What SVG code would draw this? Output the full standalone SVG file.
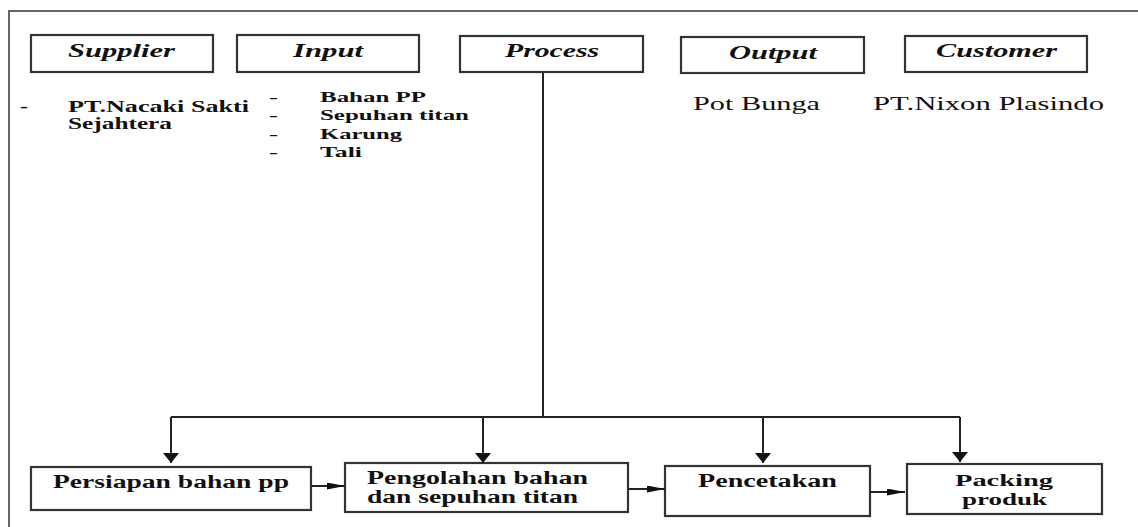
<svg xmlns="http://www.w3.org/2000/svg" width="1138" height="527" viewBox="0 0 1138 527">
<style>
.frame{fill:none;stroke:#666;stroke-width:2}
.box{fill:#fff;stroke:#333;stroke-width:2.2}
.hd{font-family:"Liberation Serif","Times New Roman",serif;font-weight:bold;font-style:italic;font-size:18px;fill:#111}
.tb{font-family:"Liberation Serif","Times New Roman",serif;font-weight:bold;fill:#111}
.tr{font-family:"Liberation Serif","Times New Roman",serif;font-size:19px;fill:#111}
.s17{font-size:17px}
.s15{font-size:15px}
.s18{font-size:18px}
.s16{font-size:16px}
.ln{fill:none;stroke:#222;stroke-width:2}
</style>
<defs>
<marker id="ad" viewBox="0 0 10 16" markerWidth="10" markerHeight="16" refX="10" refY="8" orient="auto" markerUnits="userSpaceOnUse"><path d="M0,0 L10,8 L0,16 z" fill="#111"/></marker>
<marker id="ah" viewBox="0 0 18 7" markerWidth="18" markerHeight="7" refX="18" refY="3.5" orient="auto" markerUnits="userSpaceOnUse"><path d="M0,0 L18,3.5 L0,7 z" fill="#111"/></marker>
</defs>
<rect width="1138" height="527" fill="#fff"/>
<rect class="frame" x="9" y="11" width="1140" height="530"/>

<g id="supplier">
<rect class="box" x="31" y="35" width="182" height="37"/>
<text class="hd" x="68" y="57" textLength="107" lengthAdjust="spacingAndGlyphs">Supplier</text>
<text class="tb s17" x="20" y="112" textLength="8" lengthAdjust="spacingAndGlyphs">-</text>
<text class="tb s17" x="68" y="112" textLength="181" lengthAdjust="spacingAndGlyphs">PT.Nacaki Sakti</text>
<text class="tb s17" x="68" y="129" textLength="104" lengthAdjust="spacingAndGlyphs">Sejahtera</text>
</g>

<g id="input">
<rect class="box" x="237" y="35" width="182" height="37"/>
<text class="hd" x="293" y="57" textLength="70" lengthAdjust="spacingAndGlyphs">Input</text>
<text class="tb s15" x="269" y="102" textLength="9" lengthAdjust="spacingAndGlyphs">-</text>
<text class="tb s15" x="269" y="120" textLength="9" lengthAdjust="spacingAndGlyphs">-</text>
<text class="tb s15" x="269" y="139" textLength="9" lengthAdjust="spacingAndGlyphs">-</text>
<text class="tb s15" x="269" y="157" textLength="9" lengthAdjust="spacingAndGlyphs">-</text>
<text class="tb s15" x="320" y="102" textLength="106" lengthAdjust="spacingAndGlyphs">Bahan PP</text>
<text class="tb s15" x="320" y="120" textLength="149" lengthAdjust="spacingAndGlyphs">Sepuhan titan</text>
<text class="tb s15" x="320" y="139" textLength="82" lengthAdjust="spacingAndGlyphs">Karung</text>
<text class="tb s15" x="320" y="157" textLength="42" lengthAdjust="spacingAndGlyphs">Tali</text>
</g>

<g id="process">
<rect class="box" x="460" y="36" width="183" height="36"/>
<text class="hd" x="505" y="57" textLength="94" lengthAdjust="spacingAndGlyphs">Process</text>
</g>

<g id="output">
<rect class="box" x="681" y="37" width="183" height="36"/>
<text class="hd" x="729" y="59" textLength="88" lengthAdjust="spacingAndGlyphs">Output</text>
<text class="tr" x="693" y="110" textLength="127" lengthAdjust="spacingAndGlyphs">Pot Bunga</text>
</g>

<g id="customer">
<rect class="box" x="905" y="36" width="182" height="36"/>
<text class="hd" x="936" y="57" textLength="121" lengthAdjust="spacingAndGlyphs">Customer</text>
<text class="tr" x="873" y="110" textLength="231" lengthAdjust="spacingAndGlyphs">PT.Nixon Plasindo</text>
</g>

<g id="persiapan">
<rect class="box" x="31" y="467" width="280" height="43"/>
<text class="tb s18" x="53" y="488" textLength="236" lengthAdjust="spacingAndGlyphs">Persiapan bahan pp</text>
</g>

<g id="pengolahan">
<rect class="box" x="345" y="463" width="283" height="49"/>
<text class="tb s18" x="367" y="484" textLength="221" lengthAdjust="spacingAndGlyphs">Pengolahan bahan</text>
<text class="tb s18" x="367" y="503" textLength="211" lengthAdjust="spacingAndGlyphs">dan sepuhan titan</text>
</g>

<g id="pencetakan">
<rect class="box" x="665" y="466" width="205" height="50"/>
<text class="tb s18" x="698" y="487" textLength="139" lengthAdjust="spacingAndGlyphs">Pencetakan</text>
</g>

<g id="packing">
<rect class="box" x="907" y="464" width="195" height="50"/>
<text class="tb s16" x="955" y="486" textLength="98" lengthAdjust="spacingAndGlyphs">Packing</text>
<text class="tb s16" x="962" y="505" textLength="85" lengthAdjust="spacingAndGlyphs">produk</text>
</g>

<g id="connectors">
<path class="ln" d="M543,72 V417"/>
<path class="ln" d="M171,417 H960"/>
<path class="ln" d="M171,417 V463" marker-end="url(#ad)"/>
<path class="ln" d="M483,417 V463" marker-end="url(#ad)"/>
<path class="ln" d="M763,417 V463" marker-end="url(#ad)"/>
<path class="ln" d="M960,417 V462" marker-end="url(#ad)"/>
<path class="ln" d="M311,486 H345" marker-end="url(#ah)"/>
<path class="ln" d="M628,489 H665" marker-end="url(#ah)"/>
<path class="ln" d="M870,492 H905" marker-end="url(#ah)"/>
</g>
</svg>
